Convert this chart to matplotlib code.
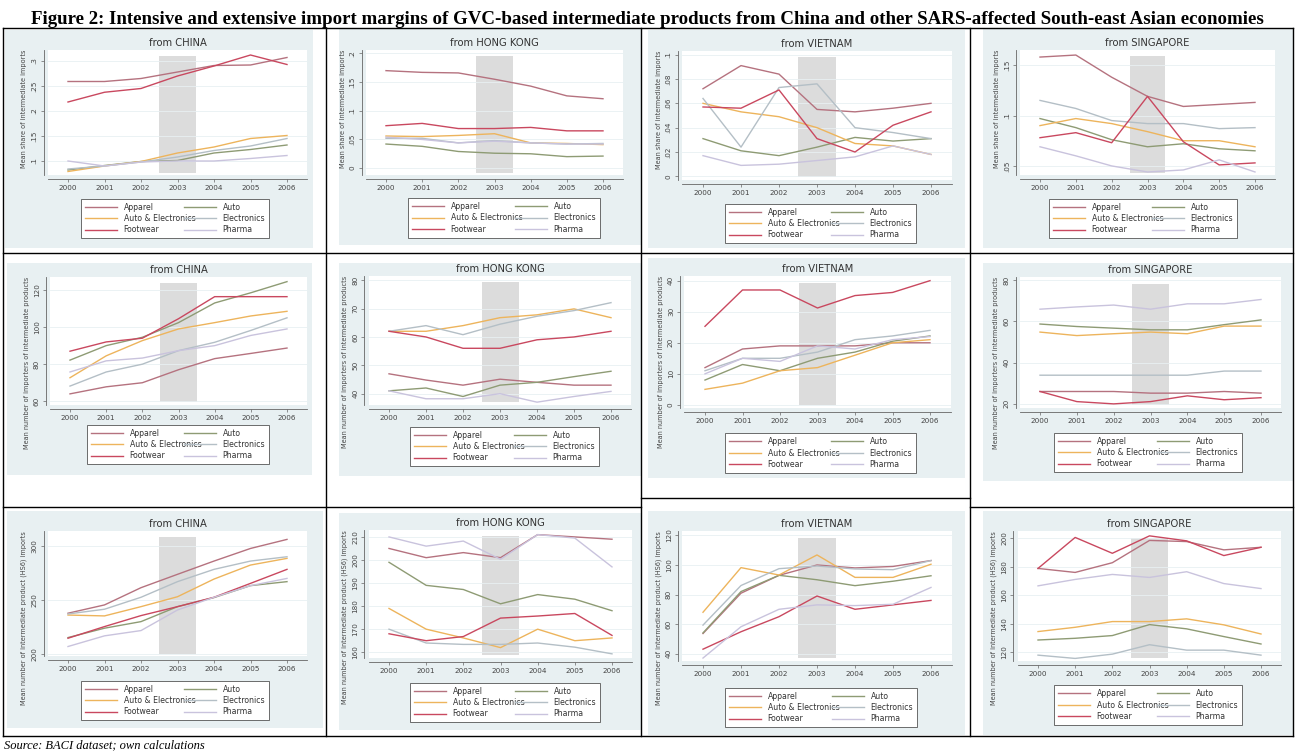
import matplotlib
matplotlib.use("Agg")
import matplotlib.pyplot as plt
from matplotlib.patches import Rectangle
from matplotlib.lines import Line2D

W, H = 1295, 753

years = [2000, 2001, 2002, 2003, 2004, 2005, 2006]
sectors = ["Apparel", "Auto", "Auto & Electronics", "Electronics", "Footwear", "Pharma"]
origins = ["CHINA", "HONG KONG", "VIETNAM", "SINGAPORE"]

# mean share of intermediate imports
share_china = {
    "Apparel": [.259, .259, .265, .278, .291, .292, .307],
    "Auto": [.082, .091, .099, .101, .116, .123, .132],
    "Auto & Electronics": [.079, .090, .099, .116, .128, .145, .151],
    "Electronics": [.084, .090, .098, .108, .121, .130, .145],
    "Footwear": [.218, .2375, .245, .270, .290, .312, .293],
    "Pharma": [.100, .090, .098, .100, .100, .105, .111],
}
share_hongkong = {
    "Apparel": [.170, .167, .166, .155, .143, .126, .121],
    "Auto": [.042, .038, .029, .026, .025, .020, .021],
    "Auto & Electronics": [.056, .055, .057, .060, .044, .043, .041],
    "Electronics": [.052, .052, .044, .048, .044, .042, .043],
    "Footwear": [.074, .078, .069, .069, .071, .065, .065],
    "Pharma": [.054, .050, .044, .047, .044, .042, .042],
}
share_vietnam = {
    "Apparel": [.072, .091, .084, .055, .053, .056, .060],
    "Auto": [.031, .021, .017, .024, .032, .029, .031],
    "Auto & Electronics": [.060, .053, .049, .040, .027, .025, .018],
    "Electronics": [.064, .024, .073, .076, .040, .036, .031],
    "Footwear": [.057, .056, .071, .031, .020, .042, .053],
    "Pharma": [.017, .009, .010, .013, .016, .025, .018],
}
share_singapore = {
    "Apparel": [.158, .160, .138, .119, .109, .111, .113],
    "Auto": [.097, .088, .076, .069, .072, .067, .065],
    "Auto & Electronics": [.090, .097, .092, .084, .075, .075, .069],
    "Electronics": [.115, .107, .095, .092, .092, .087, .088],
    "Footwear": [.078, .083, .073, .119, .074, .051, .053],
    "Pharma": [.069, .060, .050, .044, .046, .056, .044],
}

# mean number of importers
importers_china = {
    "Apparel": [64, 67.8, 70, 77, 83, 85.8, 88.7],
    "Auto": [82.2, 90, 94.5, 102.4, 113, 118.5, 124.5],
    "Auto & Electronics": [72.7, 84.5, 92.7, 99, 102.4, 106, 108.5],
    "Electronics": [68.2, 75.8, 80, 87.3, 91.8, 98.2, 105],
    "Footwear": [87, 92, 94, 104.5, 116.4, 116.4, 116.4],
    "Pharma": [75.8, 81.8, 83.3, 87.3, 90, 95.5, 99],
}
importers_hongkong = {
    "Apparel": [47, 44.8, 43, 45.1, 44, 43, 43],
    "Auto": [41, 42, 39, 43, 44, 46, 47.9],
    "Auto & Electronics": [62, 62, 64, 66.8, 67.8, 69.9, 66.8],
    "Electronics": [62, 64, 60.8, 64.5, 67.3, 69.3, 72.1],
    "Footwear": [62, 60, 56, 56, 59, 60, 62],
    "Pharma": [41, 38.2, 38.2, 40, 37, 39, 40.8],
}
importers_vietnam = {
    "Apparel": [12, 18, 19, 19, 19, 20, 20],
    "Auto": [8, 13, 11, 15, 17, 20.5, 22.2],
    "Auto & Electronics": [5, 7, 11, 12, 16, 20, 21],
    "Electronics": [11, 15, 15, 17, 21, 22.2, 24],
    "Footwear": [25.3, 37, 37, 31.2, 35.2, 36.2, 40],
    "Pharma": [10, 15, 14, 19, 18, 21, 22],
}
importers_singapore = {
    "Apparel": [26, 26, 26, 25.2, 25.2, 26, 25.2],
    "Auto": [58.7, 57.5, 56.7, 55.9, 55.9, 58.4, 60.7],
    "Auto & Electronics": [54.8, 53.1, 54, 54.8, 54, 57.7, 57.7],
    "Electronics": [33.9, 33.9, 33.9, 33.9, 33.9, 35.9, 35.9],
    "Footwear": [26, 21.1, 20, 21.1, 23.9, 22, 23],
    "Pharma": [65.9, 67, 67.9, 65.9, 68.5, 68.5, 70.6],
}

# mean number of HS6 products imported
products_china = {
    "Apparel": [237.7, 245.4, 261.4, 273.8, 286.1, 297.8, 306.2],
    "Auto": [215.1, 223.8, 229.9, 243.8, 252.2, 263.3, 267],
    "Auto & Electronics": [236, 235.2, 243.8, 253, 269.4, 282.4, 288.6],
    "Electronics": [237, 241.4, 252.5, 267, 278.4, 286.1, 290.1],
    "Footwear": [214.5, 225.3, 235.5, 243.8, 252.5, 265.4, 278.4],
    "Pharma": [206.8, 216.7, 221.6, 240.7, 252.5, 263.3, 270],
}
products_hongkong = {
    "Apparel": [205, 201, 203.2, 201, 211, 210, 209],
    "Auto": [199, 189, 187.2, 181, 185, 183, 178],
    "Auto & Electronics": [179, 170, 166.2, 162, 170, 165, 166.2],
    "Electronics": [170, 164, 163.4, 163.4, 164, 162.2, 159.3],
    "Footwear": [168, 165, 166.8, 174.8, 175.7, 176.8, 167.3],
    "Pharma": [210, 206, 208.2, 200.3, 211, 209.5, 197],
}
products_vietnam = {
    "Apparel": [53.6, 80.9, 93, 100, 98, 99, 103],
    "Auto": [54, 82, 93, 90, 86, 89, 92.7],
    "Auto & Electronics": [68, 98.2, 93.2, 106.8, 91.6, 91.6, 100.5],
    "Electronics": [59.3, 86.1, 97.5, 99.3, 97.3, 96.8, 103],
    "Footwear": [43, 54.8, 65, 79, 70, 73, 76],
    "Pharma": [37, 58.2, 70, 73, 72.5, 73.4, 84.8],
}
products_singapore = {
    "Apparel": [178.8, 176, 182.8, 198.4, 197.6, 191.8, 193.6],
    "Auto": [128.7, 129.9, 131.8, 139.5, 136.5, 131.1, 125.9],
    "Auto & Electronics": [134.6, 137.6, 141.6, 141.6, 143.5, 139.3, 132.9],
    "Electronics": [118.1, 115.8, 118.8, 125.4, 121.6, 121.6, 118.1],
    "Footwear": [178.8, 200.5, 189.4, 201.6, 198.1, 187.8, 193.6],
    "Pharma": [166.6, 171.1, 174.6, 172.5, 176.5, 168.2, 164.7],
}

row_ylabels = [
    "Mean share of intermediate imports",
    "Mean number of importers of intermediate products",
    "Mean number of intermediate product (HS6) imports",
]
row_data = [
    [share_china, share_hongkong, share_vietnam, share_singapore],
    [importers_china, importers_hongkong, importers_vietnam, importers_singapore],
    [products_china, products_hongkong, products_vietnam, products_singapore],
]
row_ticks = [
    [[.1, .15, .2, .25, .3], [0, .05, .1, .15, .2], [0, .02, .04, .06, .08, .1], [.05, .1, .15]],
    [[60, 80, 100, 120], [40, 50, 60, 70, 80], [0, 10, 20, 30, 40], [20, 40, 60, 80]],
    [[200, 250, 300], [160, 170, 180, 190, 200, 210], [40, 60, 80, 100, 120], [120, 140, 160, 180, 200]],
]
row_ylims = [
    [(.072, .322), (-.012, .206), (-.003, .103), (.041, .165)],
    [(58, 127), (36, 81.5), (-1, 41.5), (18, 81.5)],
    [(198, 314), (157.5, 213), (35, 123), (114, 205)],
]

colors = {
    "Apparel": "#b5727f",
    "Auto": "#8e9b74",
    "Auto & Electronics": "#edb45c",
    "Electronics": "#b4bfc6",
    "Footwear": "#c9485f",
    "Pharma": "#c9c3dd",
}

# pixel layout: (x of 2000, x of 2006, plot top, plot bottom), graph region, legend box
plot_px = [
    [(68, 287, 50, 175), (386, 603, 50, 175), (703, 931, 51, 180), (1040, 1255, 50, 175)],
    [(70, 287, 277, 405), (389, 611, 276, 405), (705, 930, 276, 408), (1040, 1261, 277, 408)],
    [(68, 287, 531, 656), (389, 612, 530, 658), (703, 931, 531, 661), (1038, 1261, 531, 661)],
]
region_px = [
    [(5, 30, 313, 248), (339, 28, 641, 245), (648, 30, 965, 248), (983, 28, 1293, 248)],
    [(7, 263, 312, 475), (339, 263, 641, 476), (648, 258, 965, 478), (983, 263, 1293, 481)],
    [(7, 511, 323, 728), (339, 513, 641, 730), (648, 511, 965, 735), (983, 511, 1293, 735)],
]
legend_px = [
    [(77, 201, 273, 236), (404, 201, 604, 235), (721, 206, 920, 241), (1045, 201, 1241, 236)],
    [(83, 428, 273, 461), (406, 430, 603, 463), (721, 436, 920, 470), (1050, 435, 1246, 470)],
    [(77, 682, 273, 719), (406, 685, 604, 720), (721, 690, 921, 725), (1050, 687, 1246, 723)],
]
XLIM = (1999.45, 2006.55)


def fx(x):
    return x / W


def fy(y):
    return 1 - y / H


def stata_label(v):
    s = f"{v:g}"
    return s.replace("0.", ".") if s.startswith("0.") else s


fig = plt.figure(figsize=(W / 100, H / 100), dpi=100)
fig.patch.set_facecolor("white")

# table rules
line_kw = dict(color="black", lw=1.0, transform=fig.transFigure)
for y in [28, 253, 736]:
    fig.add_artist(Line2D([fx(3), fx(1293)], [fy(y), fy(y)], **line_kw))
for x0, x1, y in [(3, 641, 507), (641, 970, 498), (970, 1293, 507)]:
    fig.add_artist(Line2D([fx(x0), fx(x1)], [fy(y), fy(y)], **line_kw))
for x in [3, 326, 641, 970, 1293]:
    fig.add_artist(Line2D([fx(x), fx(x)], [fy(28), fy(736)], **line_kw))

fig.text(0.5, fy(19), "Figure 2: Intensive and extensive import margins of GVC-based intermediate "
         "products from China and other SARS-affected South-east Asian economies",
         ha="center", va="center", fontsize=13.6, fontweight="bold", family="Liberation Serif")
fig.text(fx(4), fy(745), "Source: BACI dataset; own calculations", ha="left", va="center",
         fontsize=9, style="italic", family="Liberation Serif")

legend_order = ["Apparel", "Auto & Electronics", "Footwear", "Auto", "Electronics", "Pharma"]

for r in range(3):
    for c in range(4):
        data = row_data[r][c]
        gx0, gy0, gx1, gy1 = region_px[r][c]
        fig.add_artist(Rectangle((fx(gx0), fy(gy1)), fx(gx1 - gx0), (gy1 - gy0) / H,
                                 transform=fig.transFigure, facecolor="#e8f0f2",
                                 edgecolor="none", zorder=0))

        x2000, x2006, ytop, ybot = plot_px[r][c]
        pxyr = (x2006 - x2000) / 6
        left = x2000 - (2000 - XLIM[0]) * pxyr
        right = x2006 + (XLIM[1] - 2006) * pxyr
        ax = fig.add_axes([fx(left), fy(ybot), fx(right - left), (ybot - ytop) / H])
        ax.set_facecolor("white")

        ax.axvspan(2002.5, 2003.5, ymin=0.02, ymax=0.95, color="#dcdcdc", lw=0, zorder=0)
        handles = {}
        for s in sectors:
            handles[s], = ax.plot(years, data[s], color=colors[s], lw=1.0, zorder=2)

        ax.set_xlim(*XLIM)
        ax.set_ylim(*row_ylims[r][c])
        ticks = row_ticks[r][c]
        ax.set_yticks(ticks)
        ax.set_yticklabels([stata_label(t) for t in ticks])
        ax.set_xticks(years)
        ax.yaxis.grid(True, color="#e8f0f2", lw=0.6)
        ax.set_axisbelow(True)

        for side in ["top", "right"]:
            ax.spines[side].set_visible(False)
        for side in ["left", "bottom"]:
            ax.spines[side].set_position(("outward", 3))
            ax.spines[side].set_color("#666666")
            ax.spines[side].set_linewidth(0.6)
        ax.tick_params(length=2.5, width=0.5, color="#666666", labelsize=5.2,
                       labelcolor="#444444", pad=2)
        for lab in ax.get_yticklabels():
            lab.set_rotation(90)
            lab.set_va("center")

        ax.set_ylabel(row_ylabels[r], fontsize=4.7, color="#444444", labelpad=3, loc="top")
        ax.set_title("from " + origins[c], fontsize=7.2, color="#333333", pad=3)

        lx0, ly0, lx1, ly1 = legend_px[r][c]
        leg = fig.legend([handles[s] for s in legend_order], legend_order,
                         loc="center", ncol=2, mode="expand",
                         bbox_to_anchor=(fx(lx0), fy(ly1), fx(lx1 - lx0), (ly1 - ly0) / H),
                         fontsize=5.6, frameon=True, fancybox=False, framealpha=1,
                         edgecolor="#555555", handlelength=4.2, handletextpad=0.8,
                         labelspacing=0.3, borderpad=0.5, columnspacing=1.5)
        leg.get_frame().set_linewidth(0.6)
        for t in leg.get_texts():
            t.set_color("#333333")

fig.savefig("out.png", dpi=100)
